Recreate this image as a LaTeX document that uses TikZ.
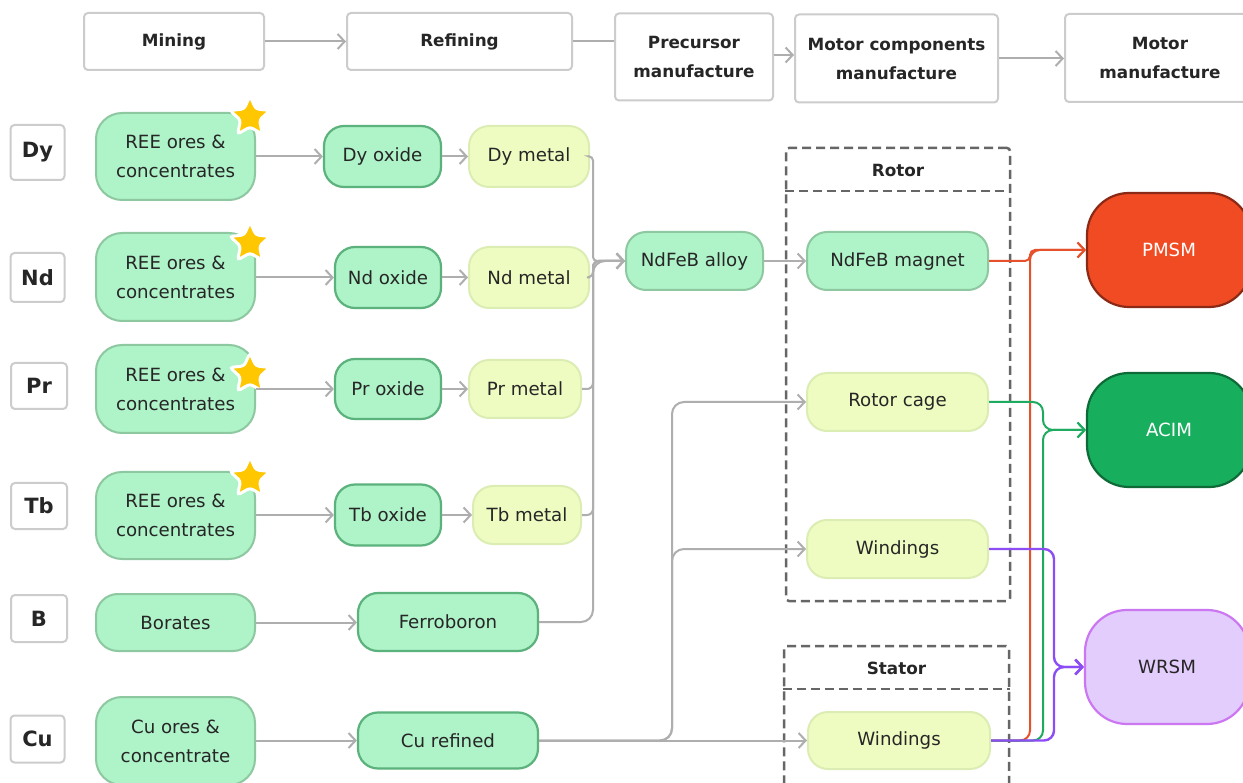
\documentclass[tikz,border=0pt]{standalone}
\usepackage{fontspec}
\setmainfont{DejaVu Sans}
\usetikzlibrary{arrows.meta,shapes.geometric}
\definecolor{txt}{HTML}{262626}
\definecolor{stagegray}{HTML}{CCCCCC}
\definecolor{conngray}{HTML}{AEAEAE}
\definecolor{dashgray}{HTML}{666666}
\definecolor{mint}{HTML}{AFF3C9}
\definecolor{mintborder}{HTML}{8DC8A0}
\definecolor{mintdark}{HTML}{5BB27C}
\definecolor{lemon}{HTML}{EEFCC2}
\definecolor{lemonborder}{HTML}{DCEDB4}
\definecolor{pmsmfill}{HTML}{F04B22}
\definecolor{pmsmborder}{HTML}{8A2A16}
\definecolor{acimfill}{HTML}{17AF5E}
\definecolor{acimborder}{HTML}{0E6A37}
\definecolor{wrsmfill}{HTML}{E3CDFC}
\definecolor{wrsmborder}{HTML}{CC77F2}
\definecolor{redline}{HTML}{E5512B}
\definecolor{greenline}{HTML}{1EAB5F}
\definecolor{purpleline}{HTML}{8C4DF5}
\definecolor{staryellow}{HTML}{FFC700}
\tikzset{
  base/.style={rectangle, inner sep=0pt, align=center, text=txt, font=\fontsize{18.2}{29}\selectfont},
  stage/.style={base, draw=stagegray, line width=2pt, rounded corners=4pt, fill=white, font=\bfseries\fontsize{16.8}{29}\selectfont},
  elem/.style={base, draw=stagegray, line width=2pt, rounded corners=4pt, fill=white, font=\bfseries\fontsize{21}{25}\selectfont},
  ore/.style={base, fill=mint, draw=mintborder, line width=2pt, rounded corners=26pt},
  oxide/.style={base, fill=mint, draw=mintdark, line width=2.2pt, rounded corners=20pt},
  alloybox/.style={base, fill=mint, draw=mintborder, line width=2pt, rounded corners=20pt},
  metal/.style={base, fill=lemon, draw=lemonborder, line width=2pt, rounded corners=20pt},
  motor/.style={base, line width=2.2pt, rounded corners=42pt, minimum width=164, minimum height=114},
  dashbox/.style={draw=dashgray, line width=2.5pt, dash pattern=on 9pt off 5pt, rounded corners=3pt, inner sep=0pt},
  boxlabel/.style={text=txt, inner sep=0pt, font=\bfseries\fontsize{16.8}{20}\selectfont},
  staricon/.style={star, star points=5, star point ratio=2.1, minimum size=42pt, inner sep=0pt, fill=staryellow, draw=white, line width=3pt, rounded corners=3pt},
  conn/.style={draw=conngray, line width=2pt, -{Straight Barb[length=7pt,width=15pt]}},
  plainconn/.style={draw=conngray, line width=2pt},
  redc/.style={draw=redline, line width=2pt, -{Straight Barb[length=7pt,width=15pt]}},
  greenc/.style={draw=greenline, line width=2pt, -{Straight Barb[length=7pt,width=15pt]}},
  purplec/.style={draw=purpleline, line width=2.4pt, -{Straight Barb[length=7pt,width=15pt]}},
}
\begin{document}
\begin{tikzpicture}[x=1pt,y=-1pt]
\clip (0,0) rectangle (1243,783);
\fill[white] (0,0) rectangle (1243,783);

% stage header
\node[stage, minimum width=180, minimum height=57] (mining) at (174,41.5) {Mining};
\node[stage, minimum width=225, minimum height=57] (refining) at (459.5,41.5) {Refining};
\node[stage, minimum width=158, minimum height=87] (precursor) at (694,57) {Precursor\\manufacture};
\node[stage, minimum width=203, minimum height=88] (motorcomp) at (896.5,58.5) {Motor components\\manufacture};
\node[stage, minimum width=190, minimum height=88] (motorman) at (1160,58) {Motor\\manufacture};
\draw[conn] (mining.east) -- (refining.west);
\draw[plainconn] (refining.east) -- (refining.east -| precursor.west);
\draw[conn] ([yshift=2pt]precursor.east) -- ([yshift=2pt]precursor.east -| motorcomp.west);
\draw[conn] (motorcomp.east) -- (motorcomp.east -| motorman.west);

% dashed groups
\node[dashbox, minimum width=224, minimum height=453] (rotorbox) at (898,374.5) {};
\draw[dashbox] (rotorbox.west |- 0,191) -- (rotorbox.east |- 0,191);
\node[boxlabel] (rotorlbl) at (898,170) {Rotor};
\node[dashbox, minimum width=225, minimum height=170] (statorbox) at (896.5,731) {};
\draw[dashbox] (statorbox.west |- 0,689) -- (statorbox.east |- 0,689);
\node[boxlabel] (statorlbl) at (896.5,668) {Stator};

% element labels
\node[elem, minimum width=54, minimum height=55] (eDy) at (37.5,152.5) {Dy};
\node[elem, minimum width=54, minimum height=49] (eNd) at (37.5,277.5) {Nd};
\node[elem, minimum width=56, minimum height=46] (ePr) at (39,386) {Pr};
\node[elem, minimum width=56, minimum height=46] (eTb) at (39,506) {Tb};
\node[elem, minimum width=56, minimum height=47] (eB) at (39,618.5) {B};
\node[elem, minimum width=54, minimum height=47] (eCu) at (37.5,739) {Cu};

% mining column
\node[ore, minimum width=159, minimum height=87] (oreDy) at (175.5,156.5) {REE ores \&\\concentrates};
\node[ore, minimum width=159, minimum height=88] (oreNd) at (175.5,277) {REE ores \&\\concentrates};
\node[ore, minimum width=159, minimum height=88] (orePr) at (175.5,389) {REE ores \&\\concentrates};
\node[ore, minimum width=159, minimum height=87] (oreTb) at (175.5,515.5) {REE ores \&\\concentrates};
\node[ore, minimum width=159, minimum height=57, rounded corners=22pt] (borates) at (175.5,622.5) {Borates};
\node[ore, minimum width=159, minimum height=88] (oreCu) at (175.5,741) {Cu ores \&\\concentrate};

% stars
\node[staricon] (starDy) at (250,117) {};
\node[staricon] (starNd) at (250,243) {};
\node[staricon] (starPr) at (250,374) {};
\node[staricon] (starTb) at (250,478) {};

% refining column
\node[oxide, minimum width=117, minimum height=61] (oxDy) at (382.5,156.5) {Dy oxide};
\node[oxide, minimum width=106, minimum height=61] (oxNd) at (388,277.5) {Nd oxide};
\node[oxide, minimum width=106, minimum height=60] (oxPr) at (388,389) {Pr oxide};
\node[oxide, minimum width=106, minimum height=61] (oxTb) at (388,515) {Tb oxide};
\node[metal, minimum width=120, minimum height=61] (mDy) at (529,156.5) {Dy metal};
\node[metal, minimum width=120, minimum height=61] (mNd) at (529,277.5) {Nd metal};
\node[metal, minimum width=112, minimum height=58] (mPr) at (525,389) {Pr metal};
\node[metal, minimum width=108, minimum height=58] (mTb) at (527,515) {Tb metal};
\node[oxide, minimum width=180, minimum height=58] (ferro) at (448,622) {Ferroboron};
\node[oxide, minimum width=180, minimum height=56] (curef) at (448,740.5) {Cu refined};

% precursor / components
\node[alloybox, minimum width=137, minimum height=58] (alloy) at (694.5,261) {NdFeB alloy};
\node[alloybox, minimum width=181, minimum height=58] (magnet) at (897.5,261) {NdFeB magnet};
\node[metal, minimum width=181, minimum height=58] (cage) at (897.5,402) {Rotor cage};
\node[metal, minimum width=181, minimum height=58] (rwind) at (897.5,549) {Windings};
\node[metal, minimum width=182, minimum height=57] (swind) at (899,740.5) {Windings};

% motors
\node[motor, fill=pmsmfill, draw=pmsmborder, text=white] (pmsm) at (1169,250) {PMSM};
\node[motor, fill=acimfill, draw=acimborder, text=white] (acim) at (1169,430) {ACIM};
\node[motor, fill=wrsmfill, draw=wrsmborder] (wrsm) at (1167,667) {WRSM};

% mining -> refining
\draw[conn] (oreDy.east |- oxDy.west) -- (oxDy.west);
\draw[conn] (oreNd.east |- oxNd.west) -- (oxNd.west);
\draw[conn] (orePr.east |- oxPr.west) -- (oxPr.west);
\draw[conn] (oreTb.east |- oxTb.west) -- (oxTb.west);
\draw[conn] (borates.east) -- (borates.east -| ferro.west);
\draw[conn] (oreCu.east |- curef.west) -- (curef.west);
\draw[conn] (oxDy.east) -- (mDy.west);
\draw[conn] (oxNd.east) -- (mNd.west);
\draw[conn] (oxPr.east) -- (mPr.west);
\draw[conn] (oxTb.east) -- (oxTb.east -| mTb.west);

% metals -> alloy bus
\draw[conn, rounded corners=4pt] (mDy.east) -- (593,156.5) -- (593,261) -- (alloy.west);
\draw[conn, rounded corners=6pt] (mNd.east) -- (593,277.5) -- (593,261) -- (alloy.west);
\draw[conn, rounded corners=6pt] (mPr.east) -- (593,389) -- (593,261) -- (alloy.west);
\draw[conn, rounded corners=6pt] (mTb.east) -- (593,515) -- (593,261) -- (alloy.west);
\draw[conn, rounded corners=12pt] (ferro.east) -- (593,622) -- (593,261) -- (alloy.west);
\draw[conn] (alloy.east) -- (magnet.west);

% copper
\draw[conn] (curef.east) -- (curef.east -| swind.west);
\draw[conn, rounded corners=12pt] (curef.east) -- (672,740.5) -- (672,549) -- (rwind.west);
\draw[conn, rounded corners=12pt] (curef.east) -- (672,740.5) -- (672,402) -- (cage.west);

% components -> motors
\draw[redc, rounded corners=5pt] (magnet.east) -- (1030,261) -- (1030,250) -- (pmsm.west);
\draw[redc, rounded corners=10pt] (swind.east) -- (1030,740.5) -- (1030,250) -- (pmsm.west);
\draw[greenc, rounded corners=10pt] (cage.east) -- (1043,402) -- (1043,430) -- (acim.west);
\draw[greenc, rounded corners=10pt] (swind.east) -- (1043,740.5) -- (1043,430) -- (acim.west);
\draw[purplec, rounded corners=10pt] (rwind.east) -- (1054,549) -- (1054,667) -- (wrsm.west);
\draw[purplec, rounded corners=10pt] (swind.east) -- (1054,740.5) -- (1054,667) -- (wrsm.west);
\end{tikzpicture}
\end{document}
